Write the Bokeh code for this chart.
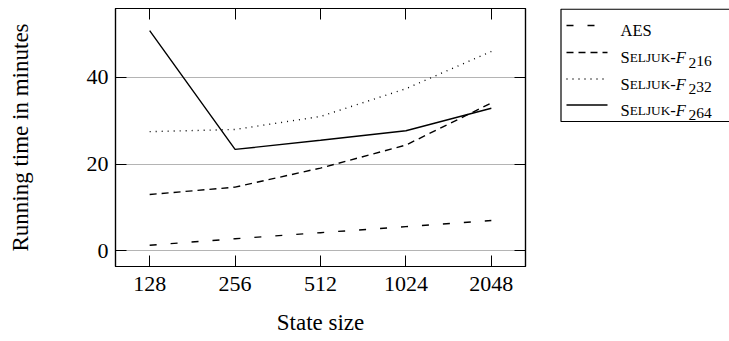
from bokeh.plotting import figure
from bokeh.models import Range1d, FixedTicker, LinearAxis
from bokeh.layouts import row
from bokeh.embed import file_html
from bokeh.resources import INLINE
from bokeh.core.properties import value

# ---------------- data ----------------
state_sizes = ["128", "256", "512", "1024", "2048"]
aes = [1.3, 2.8, 4.2, 5.6, 7.0]
seljuk_f2_16 = [13.0, 14.7, 19.1, 24.4, 34.1]
seljuk_f2_32 = [27.5, 28.0, 31.0, 37.4, 46.0]
seljuk_f2_64 = [50.8, 23.4, 25.5, 27.7, 32.9]
y_ticks = [0, 20, 40]
series_base = ["AES", "Seljuk", "Seljuk", "Seljuk"]
series_field = [None, "2", "2", "2"]
series_exponent = [None, "16", "32", "64"]
x_label = "State size"
y_label = "Running time in minutes"

FONT = "'Liberation Serif', 'Times New Roman', Times, serif"
xs = list(range(len(state_sizes)))
series = [aes, seljuk_f2_16, seljuk_f2_32, seljuk_f2_64]
dashes = ["7 14", "7 5", "1 5", "solid"]

p = figure(width=540, height=341, x_range=Range1d(-0.4, 4.4), y_range=Range1d(-3.6, 55.9),
           output_backend="svg", toolbar_location=None,
           min_border_left=115, min_border_right=15, min_border_top=8, min_border_bottom=75)
p.outline_line_color = "black"
p.outline_line_width = 1.2
p.xgrid.visible = False
p.ygrid.ticker = FixedTicker(ticks=y_ticks)
p.ygrid.grid_line_color = "#b4b4b4"
p.ygrid.grid_line_width = 1

for ys, d in zip(series, dashes):
    p.line(xs, ys, line_color="black", line_width=1.4, line_dash=d)

def style_axis(ax):
    ax.major_tick_in = 11
    ax.major_tick_out = 0
    ax.minor_tick_line_color = None
    ax.axis_line_color = "black"
    ax.major_tick_line_color = "black"
    ax.axis_line_width = 1.2
    ax.major_label_text_font = FONT
    ax.major_label_text_font_size = "22px"
    ax.major_label_text_color = "black"
    ax.axis_label_text_font = FONT
    ax.axis_label_text_font_size = "23px"
    ax.axis_label_text_font_style = "normal"
    ax.axis_label_text_color = "black"

xa = p.xaxis[0]
ya = p.yaxis[0]
style_axis(xa)
style_axis(ya)
xa.ticker = FixedTicker(ticks=xs)
xa.major_label_overrides = {i: s for i, s in enumerate(state_sizes)}
xa.major_label_standoff = 10
xa.axis_label = x_label
xa.axis_label_standoff = 16
ya.ticker = FixedTicker(ticks=y_ticks)
ya.major_label_standoff = 7
ya.axis_label = y_label
ya.axis_label_standoff = 51

top = LinearAxis(ticker=FixedTicker(ticks=xs), major_label_overrides={i: "" for i in xs})
style_axis(top)
top.major_label_text_font_size = "0px"
p.add_layout(top, "above")
right = LinearAxis(ticker=FixedTicker(ticks=y_ticks), major_label_overrides={v: "" for v in y_ticks})
style_axis(right)
right.major_label_text_font_size = "0px"
p.add_layout(right, "right")

# ---------------- legend (separate panel, frame aligned with main plot) ----------------
leg = figure(width=189, height=341, x_range=Range1d(0, 189), y_range=Range1d(266, 8),
             output_backend="svg", toolbar_location=None,
             min_border_left=0, min_border_right=0, min_border_top=8, min_border_bottom=75,
             x_axis_type=None, y_axis_type=None)
leg.outline_line_color = None
leg.quad(left=20.5, right=200, top=8.7, bottom=121, fill_color=None,
         line_color="black", line_width=1.2)

rows_y = [25, 52, 78.5, 104.5]
W = {"S": .556, "E": .611, "L": .611, "J": .389, "U": .722, "K": .722, "-": .333,
     "A": .722, "F": .611, "1": .5, "2": .5, "3": .5, "4": .5, "6": .5}
fs, sc, sub = 16.5, 13.3, 15.5

def wid(s, size):
    return sum(W.get(c, .5) for c in s) * size

for y, d, base, fld, ex in zip(rows_y, dashes, series_base, series_field, series_exponent):
    leg.line([26, 67], [y, y], line_color="black", line_width=1.5, line_dash=d)
    base_y = y + 0.33 * fs
    if fld is None:
        pieces = [(base, fs, "normal", 0, 0)]
    else:
        b = base.upper()
        pieces = [(b[0], fs, "normal", 0, 0), (b[1:], sc, "normal", 0, 0),
                  ("-", fs, "normal", 0, 0), ("F", fs, "italic", 0, 2.5),
                  (fld, sub, "normal", 5, 0), (ex, sub, "normal", 3, 0)]
    x = 80
    for t, size, st, dy, extra in pieces:
        leg.text(x=[x], y=[base_y + dy], text=[t], text_font=value(FONT),
                 text_font_size=f"{size}px", text_font_style=st,
                 text_baseline="alphabetic", text_align="left", text_color="black")
        x += wid(t, size) + extra

layout = row(p, leg)
open("out.html", "w").write(file_html(layout, INLINE))
